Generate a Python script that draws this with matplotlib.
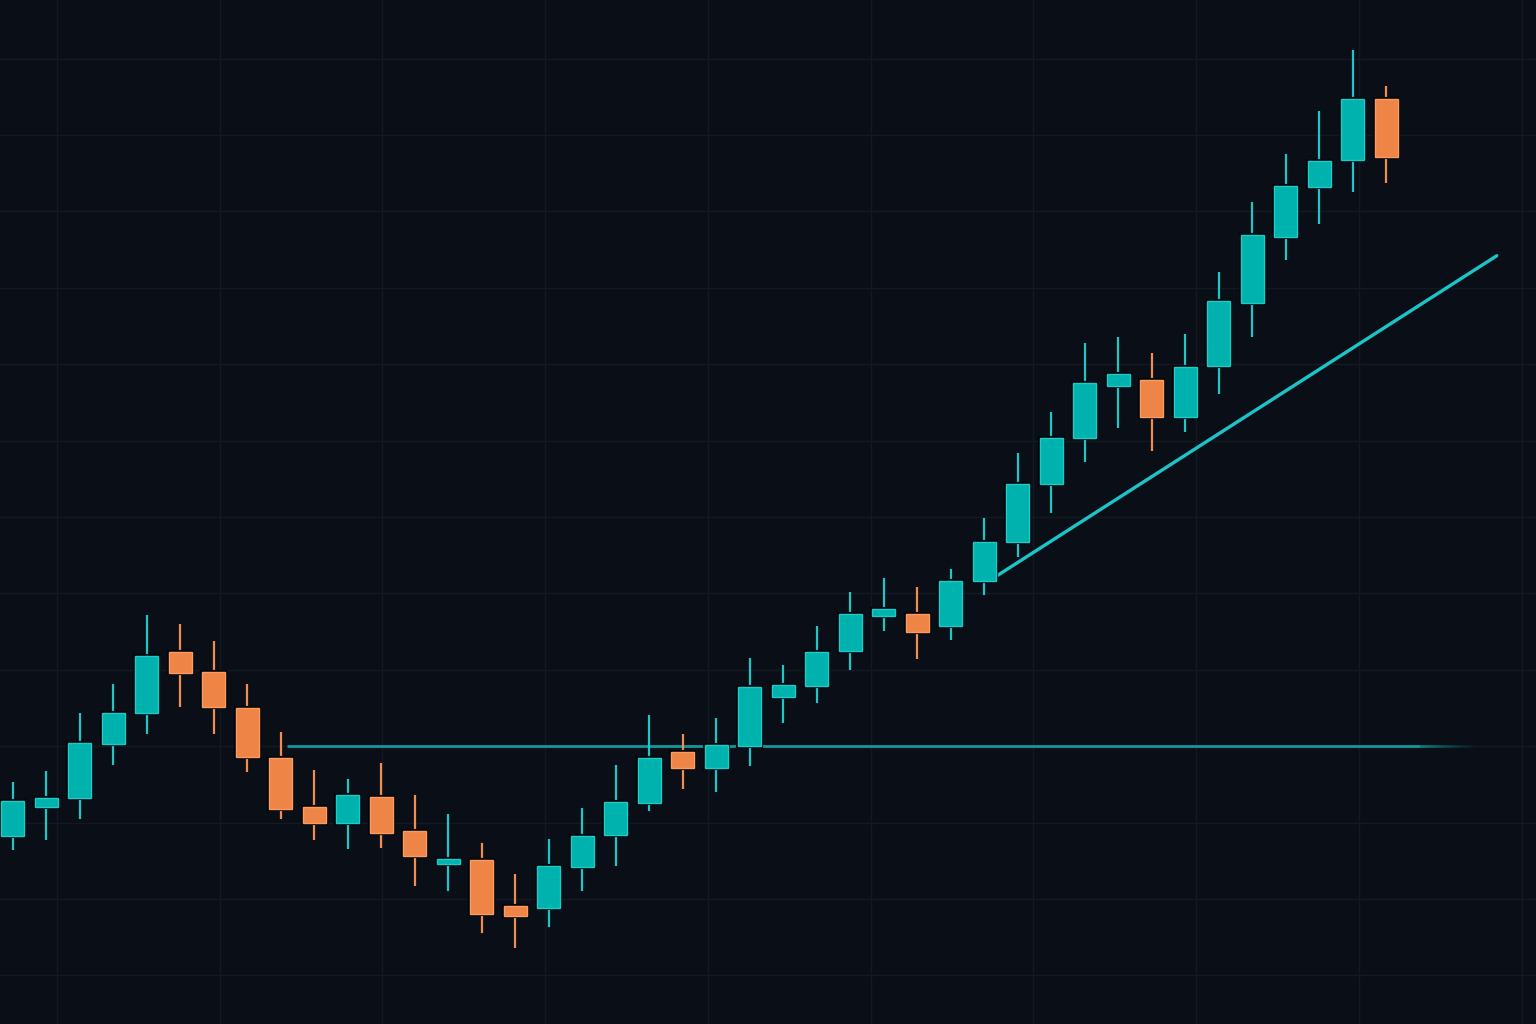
import numpy as np
import matplotlib
matplotlib.use("Agg")
import matplotlib.pyplot as plt
import matplotlib.patheffects as pe
from matplotlib.collections import LineCollection

# OHLC values (one candle per session)
opens = [108.2, 112.0, 113.2, 120.3, 124.3, 132.3, 129.7, 125.0, 118.5, 112.0,
         109.9, 113.4, 108.9, 104.6, 105.1, 99.1, 98.8, 104.2, 108.4, 112.6,
         119.2, 117.1, 120.0, 126.4, 127.9, 132.5, 137.0, 137.3, 135.7, 141.6,
         146.7, 154.3, 160.3, 167.1, 167.9, 163.1, 169.8, 178.0, 186.6, 193.2,
         196.7, 204.7]
highs = [115.3, 116.8, 124.3, 128.1, 137.2, 136.0, 133.8, 128.1, 121.9, 116.9,
         115.7, 117.8, 113.6, 111.1, 107.3, 103.3, 107.9, 111.9, 117.5, 124.1,
         121.6, 123.7, 131.5, 130.6, 135.7, 140.2, 142.0, 140.8, 143.2, 149.9,
         158.4, 163.7, 172.8, 173.6, 171.5, 174.0, 182.1, 191.2, 197.5, 203.1,
         211.1, 206.4]
lows = [106.4, 107.7, 110.5, 117.5, 121.6, 125.1, 121.6, 116.6, 110.5, 107.7,
        106.5, 106.7, 101.7, 101.0, 95.5, 93.6, 96.3, 101.0, 104.3, 111.5,
        114.4, 114.0, 117.4, 123.0, 125.7, 130.0, 135.1, 131.4, 133.9, 139.8,
        144.8, 150.5, 157.2, 161.6, 158.6, 161.1, 166.1, 173.6, 183.6, 188.4,
        192.5, 193.7]
closes = [112.8, 113.2, 120.4, 124.3, 131.8, 129.6, 125.1, 118.6, 111.8, 109.9,
          113.6, 108.6, 105.6, 105.2, 98.0, 97.8, 104.3, 108.2, 112.7, 118.5,
          117.1, 120.2, 127.7, 128.0, 132.3, 137.3, 138.0, 134.9, 141.6, 146.7,
          154.3, 160.3, 167.5, 168.7, 163.1, 169.6, 178.3, 186.9, 193.3, 196.6,
          204.7, 197.1]

# drawn levels
support_level = 120.0
support_start, support_end = 8.2, 43.8
trend_x = [29.2, 44.3]
trend_y = [141.8, 184.2]

BG = "#0a0e17"
GRID = "#131923"
UP, UP_EDGE, UP_WICK = "#00b2ae", "#1ccac6", "#1fc6c6"
DN, DN_EDGE, DN_WICK = "#ef8447", "#f89c63", "#f28d52"


def main():
    o = np.array(opens)
    h = np.array(highs)
    l = np.array(lows)
    c = np.array(closes)
    idx = np.arange(len(o))
    up = c >= o

    fig = plt.figure(figsize=(15.36, 10.24), dpi=100, facecolor=BG)
    ax = fig.add_axes([0, 0, 1, 1])
    ax.set_facecolor(BG)

    # background grid
    ax.set_xticks(np.arange(1.325, 46, 4.857))
    ax.set_yticks(np.arange(90, 215, 10))
    ax.grid(True, color=GRID, linewidth=1.0)
    ax.tick_params(length=0, labelbottom=False, labelleft=False)
    for s in ax.spines.values():
        s.set_visible(False)

    # horizontal support line with fading right end
    n_fade = 80
    solid_end = 42.0
    xs = np.concatenate([[support_start], np.linspace(solid_end, support_end, n_fade)])
    segs = [[(xs[i], support_level), (xs[i + 1], support_level)] for i in range(len(xs) - 1)]
    alphas = np.concatenate([[1.0], np.linspace(1.0, 0.0, n_fade - 1) ** 1.5])
    cols = [(0.07, 0.6, 0.62, a) for a in alphas]
    lc = LineCollection(segs, colors=cols, linewidths=2.0, zorder=2)
    ax.add_collection(lc)

    # trend line
    ax.plot(trend_x, trend_y, color="#1cc4c8", linewidth=2.4,
            solid_capstyle="round", zorder=2)

    # wicks
    ax.vlines(idx[up], l[up], h[up], color=UP_WICK, linewidth=1.6, zorder=3)
    ax.vlines(idx[~up], l[~up], h[~up], color=DN_WICK, linewidth=1.6, zorder=3)

    # bodies
    shadow = [pe.Stroke(linewidth=3, foreground="#05070c"), pe.Normal()]
    bottoms = np.minimum(o, c)
    heights = np.maximum(np.abs(c - o), 0.6)
    ax.bar(idx[up], heights[up], bottom=bottoms[up], width=0.69,
           color=UP, edgecolor=UP_EDGE, linewidth=1.0, zorder=4,
           path_effects=shadow)
    ax.bar(idx[~up], heights[~up], bottom=bottoms[~up], width=0.69,
           color=DN, edgecolor=DN_EDGE, linewidth=1.0, zorder=4,
           path_effects=shadow)

    ax.set_xlim(-0.376, 45.47)
    ax.set_ylim(83.64, 217.67)

    fig.savefig("out.png", dpi=100, facecolor=BG)
    plt.close(fig)


if __name__ == "__main__":
    main()
